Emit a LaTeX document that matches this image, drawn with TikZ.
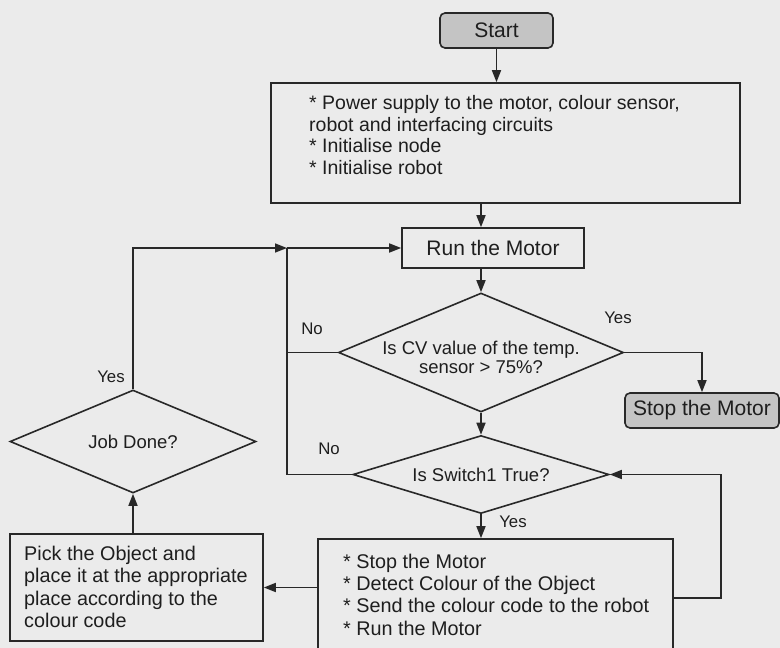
\documentclass[tikz,border=0pt]{standalone}
\usepackage{fontspec}
\setmainfont{Liberation Sans}
\usetikzlibrary{shapes.geometric,arrows.meta}
\definecolor{bg}{HTML}{EBEBEB}
\definecolor{ln}{HTML}{282828}
\definecolor{gfill}{HTML}{C4C4C4}
\definecolor{tx}{HTML}{1E1E1E}
\begin{document}
\begin{tikzpicture}[x=1pt,y=-1pt,
  every node/.style={text=tx},
  box/.style={draw=ln, line width=1.6pt, rectangle, inner sep=0pt},
  term/.style={box, fill=gfill, rounded corners=5pt, font=\fontsize{21}{24}\selectfont},
  dec/.style={draw=ln, line width=1.6pt, diamond, inner sep=0pt, align=center, font=\fontsize{18.5}{19.5}\selectfont},
  dtext/.style={inner sep=0pt, align=center, text=tx, font=\fontsize{18.5}{19.5}\selectfont},
  txt/.style={inner sep=0pt, align=left},
  lab/.style={inner sep=0pt, font=\fontsize{16.8}{18}\selectfont},
  arr/.style={draw=ln, line width=1.6pt, -{Triangle[length=12pt,width=9pt]}},
  ln/.style={draw=ln, line width=1.6pt}]
\fill[bg] (0,0) rectangle (780,648);
\useasboundingbox (0,0) rectangle (780,648);

% nodes
\node[term, minimum width=113pt, minimum height=35pt] (start) at (496.5,30.5) {Start};
\node[box, minimum width=469pt, minimum height=120pt] (init) at (505.5,143) {};
\node[txt, anchor=north west, font=\fontsize{19.5}{21.7}\selectfont] (initt) at (309,95)
  {* Power supply to the motor, colour sensor,\\robot and interfacing circuits\\* Initialise node\\* Initialise robot};
\node[box, minimum width=182pt, minimum height=40pt, font=\fontsize{21}{24}\selectfont] (run) at (493,248) {Run the Motor};
\node[dec, aspect=2.4, minimum width=285pt, minimum height=119pt,
  label={[dtext, yshift=-5pt]center:Is CV value of the temp.\\sensor > 75\%?}] (dia1) at (481,352.5) {};
\node[term, minimum width=154pt, minimum height=35pt] (stop) at (702,410.5) {Stop the Motor};
\node[dec, aspect=3.28, minimum width=256pt, minimum height=78pt] (dia2) at (481,474.5) {Is Switch1 True?};
\node[box, minimum width=355pt, minimum height=121pt] (act) at (495.5,599.5) {};
\node[txt, anchor=north west, font=\fontsize{19.8}{22.3}\selectfont] (actt) at (343,553.8)
  {* Stop the Motor\\* Detect Colour of the Object\\* Send the colour code to the robot\\* Run the Motor};
\node[box, minimum width=253pt, minimum height=107pt] (pick) at (136.5,587.5) {};
\node[txt, anchor=north west, font=\fontsize{19.8}{22.5}\selectfont] (pickt) at (24,545.5)
  {Pick the Object and\\place it at the appropriate\\place according to the\\colour code};
\node[dec, aspect=2.39, minimum width=246pt, minimum height=103pt] (job) at (133,441.5) {Job Done?};

\coordinate (jn) at (287,248);
\coordinate (fb) at (721,598);

% labels
\node[lab] (no1) at (312,329) {No};
\node[lab] (no2) at (329,449) {No};
\node[lab] (yes1) at (618,318) {Yes};
\node[lab] (yes2) at (513,522) {Yes};
\node[lab] (yes3) at (111,377) {Yes};

% connectors
\draw[arr] (start.south) -- (start.south |- init.north);
\draw[arr] (dia1.north |- init.south) -- (dia1.north |- run.north);
\draw[arr] (dia1.north |- run.south) -- (dia1.north);
\draw[arr] (dia1.east) -| (stop.north);
\draw[arr] (dia1.south) -- (dia2.north);
\draw[arr] (dia2.south) -- (dia2.south |- act.north);
\draw[ln] (dia1.west) -- (dia1.west -| jn);
\draw[ln] (dia2.west) -| (jn);
\draw[arr] (jn) -- (run.west);
\draw[arr] (job.north) |- (jn);
\draw[arr] (act.west |- pick.east) -- (pick.east);
\draw[arr] (job.south |- pick.north) -- (job.south);
\draw[arr] (fb -| act.east) -- (fb) |- (dia2.east);
\end{tikzpicture}
\end{document}
